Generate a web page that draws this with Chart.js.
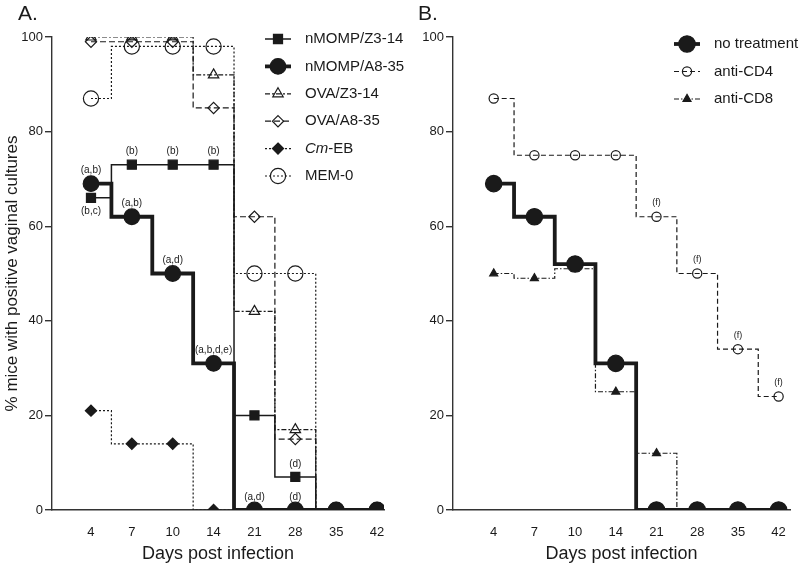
<!DOCTYPE html>
<html>
<head>
<meta charset="utf-8">
<script src="https://cdn.jsdelivr.net/npm/chart.js@4.4.1/dist/chart.umd.min.js"></script>
<style>
  html, body { margin: 0; padding: 0; background: #fff; }
  #wrap { position: relative; width: 800px; height: 568px; }
  .panel { position: absolute; top: 0; height: 568px; }
</style>
</head>
<body>
<div id="wrap">
  <div class="panel" style="left:0;width:430px"><canvas id="chartA" width="430" height="568"></canvas></div>
  <div class="panel" style="left:400px;width:400px"><canvas id="chartB" width="400" height="568"></canvas></div>
</div>
<script>
// x categories (days post infection)
const days = ['4', '7', '10', '14', '21', '28', '35', '42'];

// panel A - % positive cultures
const nmompZ3 = [66, 73, 73, 73, 20, 7, 0, 0];
const nmompA8 = [69, 62, 50, 31, 0, 0, 0, 0];
const ovaZ3   = [100, 100, 100, 92, 42, 17, 0, 0];
const ovaA8   = [99, 99, 99, 85, 62, 15, 0, 0];
const cmEB    = [21, 14, 14, 0, 0, 0, 0, 0];
const mem0    = [87, 98, 98, 98, 50, 50, 0, 0];

// panel B
const noTreatment = [69, 62, 52, 31, 0, 0, 0, 0];
const antiCD4     = [87, 75, 75, 75, 62, 50, 34, 24];
const antiCD8     = [50, 49, 51, 25, 12, 0, 0, 0];

// significance notes
const notesA8      = ['(a,b)', '(a,b)', '(a,d)', '(a,b,d,e)', '(a,d)', '(d)', '', ''];
const notesZ3Above = ['', '(b)', '(b)', '(b)', '', '(d)', '', ''];
const notesZ3Below = ['(b,c)', '', '', '', '', '', '', ''];
const notesCD4     = ['', '', '', '', '(f)', '(f)', '(f)', '(f)'];

const FONT = '"Liberation Sans", Arial, sans-serif';
const INK = '#1a1a1a';

function series(label, values, s) {
  return Object.assign({
    label,
    data: values.map((v, i) => ({ x: i, y: v })),
    stepped: 'middle',
    borderColor: INK,
    borderWidth: 1.2,
    borderDash: [],
    pointBorderColor: INK,
    pointBorderWidth: 1.2,
    pointBackgroundColor: 'rgba(0,0,0,0)',
    order: 2
  }, s);
}

function drawMarker(ctx, style, r, x, y, fill, stroke, lw) {
  ctx.save();
  ctx.beginPath();
  if (style === 'circle') {
    ctx.arc(x, y, r, 0, Math.PI * 2);
  } else if (style === 'rect') {
    const h = r * Math.SQRT1_2;
    ctx.rect(x - h, y - h, 2 * h, 2 * h);
  } else if (style === 'rectRot') {
    ctx.moveTo(x, y - r); ctx.lineTo(x + r, y); ctx.lineTo(x, y + r); ctx.lineTo(x - r, y);
    ctx.closePath();
  } else if (style === 'triangle') {
    for (let k = 0; k < 3; k++) {
      const a = -Math.PI / 2 + k * 2 * Math.PI / 3;
      const px = x + Math.cos(a) * r, py = y + Math.sin(a) * r;
      k ? ctx.lineTo(px, py) : ctx.moveTo(px, py);
    }
    ctx.closePath();
  }
  ctx.fillStyle = fill;
  ctx.fill();
  ctx.lineWidth = lw;
  ctx.strokeStyle = stroke;
  ctx.setLineDash([]);
  ctx.stroke();
  ctx.restore();
}

// legend with a short line plus marker, like the original
const lineLegend = {
  id: 'lineLegend',
  afterDraw(chart, args, o) {
    const ctx = chart.ctx;
    chart.data.datasets.forEach((ds, i) => {
      const y = o.y + i * o.gap;
      ctx.save();
      ctx.strokeStyle = ds.borderColor;
      ctx.lineWidth = ds.borderWidth;
      ctx.setLineDash(ds.borderDash || []);
      ctx.beginPath();
      ctx.moveTo(o.x - 13, y);
      ctx.lineTo(o.x + 13, y);
      ctx.stroke();
      ctx.restore();
      drawMarker(ctx, ds.pointStyle, ds.pointRadius, o.x, y,
        ds.pointBackgroundColor, ds.pointBorderColor, ds.pointBorderWidth);
      ctx.save();
      ctx.fillStyle = INK;
      ctx.textBaseline = 'middle';
      let tx = o.x + 27;
      let rest = ds.label;
      if (ds.italicPart) {
        ctx.font = 'italic 15px ' + FONT;
        ctx.fillText(ds.italicPart, tx, y);
        tx += ctx.measureText(ds.italicPart).width;
        rest = ds.label.slice(ds.italicPart.length);
      }
      ctx.font = '15px ' + FONT;
      ctx.fillText(rest, tx, y);
      ctx.restore();
    });
  }
};

// small letters above / below points
const pointNotes = {
  id: 'pointNotes',
  afterDatasetsDraw(chart, args, o) {
    const ctx = chart.ctx;
    const xs = chart.scales.x, ys = chart.scales.y;
    ctx.save();
    ctx.fillStyle = INK;
    ctx.textAlign = 'center';
    ctx.textBaseline = 'middle';
    o.sets.forEach(set => {
      ctx.font = set.size + 'px ' + FONT;
      const vals = chart.data.datasets[set.ds].data;
      set.texts.forEach((t, i) => {
        if (!t) return;
        ctx.fillText(t, xs.getPixelForValue(i), ys.getPixelForValue(vals[i].y) + set.dy);
      });
    });
    ctx.restore();
  }
};

const panelTag = {
  id: 'panelTag',
  afterDraw(chart, args, o) {
    const ctx = chart.ctx;
    ctx.save();
    ctx.font = '21px ' + FONT;
    ctx.fillStyle = INK;
    ctx.textBaseline = 'middle';
    ctx.fillText(o.text, 18, 14);
    ctx.restore();
  }
};

function scales(xmin, xmax, yWidth, yTitle) {
  return {
    x: {
      type: 'linear', min: xmin, max: xmax,
      afterBuildTicks: s => { s.ticks = days.map((d, i) => ({ value: i })); },
      afterFit: s => { s.height = 58; },
      ticks: { callback: v => days[v], font: { family: FONT, size: 13 }, color: INK,
               padding: 7, maxRotation: 0, autoSkip: false },
      grid: { display: false },
      border: { display: true, color: '#333', width: 1.4 },
      title: { display: true, text: 'Days post infection', color: INK,
               font: { family: FONT, size: 18 }, padding: { top: 4, bottom: 3 } }
    },
    y: {
      min: 0, max: 100,
      afterFit: s => { s.width = yWidth; },
      ticks: { stepSize: 20, font: { family: FONT, size: 13 }, color: INK, padding: 2 },
      grid: { display: true, drawOnChartArea: false, drawTicks: true, tickLength: 7,
              color: '#333', lineWidth: 1.4 },
      border: { display: true, color: '#333', width: 1.4 },
      title: { display: !!yTitle, text: yTitle || '', color: INK,
               font: { family: FONT, size: 17 }, padding: { top: 2, bottom: 2 } }
    }
  };
}

new Chart(document.getElementById('chartA'), {
  type: 'line',
  data: {
    datasets: [
      series('nMOMP/Z3-14', nmompZ3, { pointStyle: 'rect', pointRadius: 6.4, pointBackgroundColor: INK, order: 1, borderWidth: 1.5 }),
      series('nMOMP/A8-35', nmompA8, { pointStyle: 'circle', pointRadius: 7.8, pointBackgroundColor: INK, borderWidth: 3.8, order: 0 }),
      series('OVA/Z3-14', ovaZ3, { pointStyle: 'triangle', pointRadius: 6, borderDash: [5, 2, 2, 2] }),
      series('OVA/A8-35', ovaA8, { pointStyle: 'rectRot', pointRadius: 5.6, borderDash: [6, 3] }),
      series('Cm-EB', cmEB, { pointStyle: 'rectRot', pointRadius: 5.6, pointBackgroundColor: INK, borderDash: [2, 2], italicPart: 'Cm' }),
      series('MEM-0', mem0, { pointStyle: 'circle', pointRadius: 7.6, borderDash: [2, 2] })
    ]
  },
  options: {
    responsive: false,
    animation: false,
    layout: { padding: { top: 37, right: 46, left: 0, bottom: 0 } },
    scales: scales(-0.954, 7.17, 52, '% mice with positive vaginal cultures'),
    plugins: {
      legend: { display: false },
      tooltip: { enabled: false },
      lineLegend: { x: 278, y: 39, gap: 27.4 },
      panelTag: { text: 'A.' },
      pointNotes: { sets: [
        { ds: 1, texts: notesA8, dy: -13, size: 10 },
        { ds: 0, texts: notesZ3Above, dy: -13, size: 10 },
        { ds: 0, texts: notesZ3Below, dy: 13, size: 10 }
      ] }
    }
  },
  plugins: [lineLegend, pointNotes, panelTag]
});

new Chart(document.getElementById('chartB'), {
  type: 'line',
  data: {
    datasets: [
      series('no treatment', noTreatment, { pointStyle: 'circle', pointRadius: 8.2, pointBackgroundColor: INK, borderWidth: 3.8, order: 0 }),
      series('anti-CD4', antiCD4, { pointStyle: 'circle', pointRadius: 4.6, borderDash: [5, 3] }),
      series('anti-CD8', antiCD8, { pointStyle: 'triangle', pointRadius: 4.6, pointBackgroundColor: INK, borderDash: [5, 2, 1.5, 2] })
    ]
  },
  options: {
    responsive: false,
    animation: false,
    layout: { padding: { top: 37, right: 10, left: 0, bottom: 0 } },
    scales: scales(-1, 7.28, 53, null),
    plugins: {
      legend: { display: false },
      tooltip: { enabled: false },
      lineLegend: { x: 287, y: 44, gap: 27.5 },
      panelTag: { text: 'B.' },
      pointNotes: { sets: [
        { ds: 1, texts: notesCD4, dy: -14, size: 9 }
      ] }
    }
  },
  plugins: [lineLegend, pointNotes, panelTag]
});
</script>
</body>
</html>
